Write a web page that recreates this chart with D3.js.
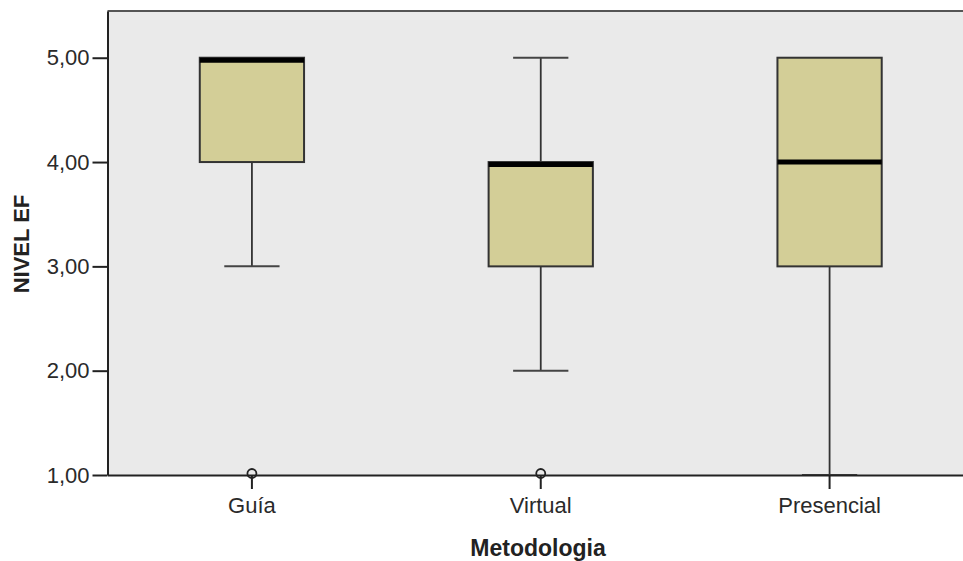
<!DOCTYPE html>
<html>
<head>
<meta charset="utf-8">
<script src="https://cdn.jsdelivr.net/npm/d3@7"></script>
<style>
  body { margin: 0; background: #fff; }
  text { font-family: "Liberation Sans", Arial, sans-serif; fill: #222; }
</style>
</head>
<body>
<div id="chart"></div>
<script>
// categories of the x axis
var groups = ["Guía", "Virtual", "Presencial"];
// five number summary per group
var lowWhisker = [3, 2, 1];
var q1 = [4, 3, 3];
var median = [5, 4, 4];
var q3 = [5, 4, 5];
var highWhisker = [5, 5, 5];
// outliers (circles)
var outlierGroup = ["Guía", "Virtual"];
var outlierValue = [1, 1];
// y tick values
var yTicks = [1, 2, 3, 4, 5];

var W = 963, H = 561;
var margin = {top: 11, right: -11, bottom: 86, left: 107.5};
var width = W - margin.left - margin.right;
var height = H - margin.top - margin.bottom;

var data = groups.map(function(g, i) {
  return {g: g, lo: lowWhisker[i], q1: q1[i], med: median[i], q3: q3[i], hi: highWhisker[i]};
});

var svg = d3.select("#chart").append("svg")
  .attr("width", W).attr("height", H);

var g = svg.append("g")
  .attr("transform", "translate(" + margin.left + "," + margin.top + ")");

var x = d3.scaleBand().domain(groups).range([0, width]);
var y = d3.scaleLinear().domain([1, 5.448]).range([height, 0]);

// plot background
g.append("rect")
  .attr("width", width).attr("height", height)
  .attr("fill", "#eaeaea");

// top border
g.append("line")
  .attr("x1", 0).attr("x2", width).attr("y1", 0).attr("y2", 0)
  .attr("stroke", "#555").attr("stroke-width", 2);

var boxW = x.bandwidth() * 0.361;
var capW = boxW * 0.53;

var box = g.selectAll(".box").data(data).enter().append("g")
  .attr("class", "box")
  .attr("transform", function(d) { return "translate(" + (x(d.g) + x.bandwidth() / 2) + ",0)"; });

// whiskers (only where they stick out of the box)
box.filter(function(d) { return d.lo < d.q1; }).append("line")
  .attr("y1", function(d) { return y(d.lo); }).attr("y2", function(d) { return y(d.q1); })
  .attr("stroke", "#333").attr("stroke-width", 1.8);
box.filter(function(d) { return d.hi > d.q3; }).append("line")
  .attr("y1", function(d) { return y(d.q3); }).attr("y2", function(d) { return y(d.hi); })
  .attr("stroke", "#333").attr("stroke-width", 1.8);
box.filter(function(d) { return d.lo < d.q1; }).append("line")
  .attr("x1", -capW / 2).attr("x2", capW / 2)
  .attr("y1", function(d) { return y(d.lo); }).attr("y2", function(d) { return y(d.lo); })
  .attr("stroke", "#444").attr("stroke-width", 2);
box.filter(function(d) { return d.hi > d.q3; }).append("line")
  .attr("x1", -capW / 2).attr("x2", capW / 2)
  .attr("y1", function(d) { return y(d.hi); }).attr("y2", function(d) { return y(d.hi); })
  .attr("stroke", "#444").attr("stroke-width", 2);

// boxes
box.append("rect")
  .attr("x", -boxW / 2).attr("width", boxW)
  .attr("y", function(d) { return y(d.q3); })
  .attr("height", function(d) { return y(d.q1) - y(d.q3); })
  .attr("fill", "#d3ce97").attr("stroke", "#333").attr("stroke-width", 2);

// median
box.append("line")
  .attr("x1", -boxW / 2).attr("x2", boxW / 2)
  .attr("y1", function(d) { return y(d.med) + (d.med === d.q3 ? 2.5 : 0); })
  .attr("y2", function(d) { return y(d.med) + (d.med === d.q3 ? 2.5 : 0); })
  .attr("stroke", "#000").attr("stroke-width", 5);

// y axis
var yAxis = d3.axisLeft(y).tickValues(yTicks).tickSize(15).tickSizeOuter(0).tickPadding(3)
  .tickFormat(function(d) { return d3.format(".2f")(d).replace(".", ","); });
var ya = g.append("g").call(yAxis);
ya.selectAll("path, line").attr("stroke", "#222").attr("stroke-width", 2);
ya.selectAll("text").attr("font-size", 22).style("fill", "#2a2a2a")
  .attr("font-family", "Liberation Sans, Arial, sans-serif");

// x axis
var xAxis = d3.axisBottom(x).tickSize(14).tickSizeOuter(0).tickPadding(8);
var xa = g.append("g").attr("transform", "translate(0," + height + ")").call(xAxis);
xa.selectAll("path, line").attr("stroke", "#222").attr("stroke-width", 2);
xa.selectAll("text").attr("font-size", 22).style("fill", "#2a2a2a")
  .attr("font-family", "Liberation Sans, Arial, sans-serif");

// outliers
g.selectAll(".outlier")
  .data(outlierValue.map(function(v, i) { return {g: outlierGroup[i], v: v}; }))
  .enter().append("circle")
  .attr("class", "outlier")
  .attr("cx", function(d) { return x(d.g) + x.bandwidth() / 2; })
  .attr("cy", function(d) { return y(d.v) - 1.5; })
  .attr("r", 4.5)
  .attr("fill", "none").attr("stroke", "#222").attr("stroke-width", 1.8);

// axis titles
svg.append("text")
  .attr("x", 538).attr("y", 556)
  .attr("text-anchor", "middle")
  .attr("font-size", 23).attr("font-weight", "bold")
  .text("Metodologia");

svg.append("text")
  .attr("transform", "translate(29,244) rotate(-90)")
  .attr("text-anchor", "middle")
  .attr("font-size", 22).attr("font-weight", "bold")
  .text("NIVEL EF");
</script>
</body>
</html>
